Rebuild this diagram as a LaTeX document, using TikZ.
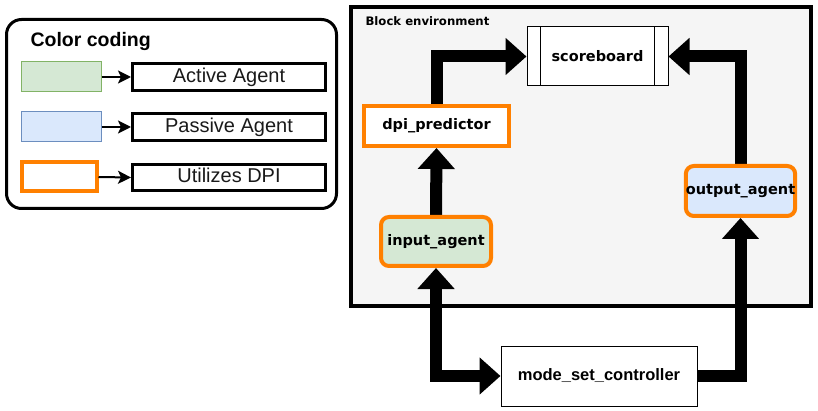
\documentclass[tikz,border=0pt]{standalone}
\usepackage{fontspec}
\setmainfont{Liberation Sans}
\newfontfamily\dv{DejaVu Sans}
\usetikzlibrary{arrows.meta}
\pgfdeclarelayer{bg}
\pgfdeclarelayer{mid}
\pgfsetlayers{bg,mid,main}
\definecolor{dpiorange}{HTML}{FF8000}
\definecolor{actfill}{HTML}{D5E8D4}
\definecolor{actline}{HTML}{82B366}
\definecolor{pasfill}{HTML}{DAE8FC}
\definecolor{pasline}{HTML}{6C8EBF}
\definecolor{envfill}{HTML}{F5F5F5}
\definecolor{txt}{HTML}{1A1A1A}
\tikzset{
  legbox/.style={draw=black, line width=3pt, fill=white, minimum width=193pt, minimum height=27pt, inner sep=0pt, font=\fontsize{20}{24}\selectfont, text=txt, text height=14.5pt, text depth=4pt},
  legarrow/.style={line width=2pt, -{Stealth[length=13pt,width=13pt,inset=3pt]}},
  blk/.style={font=\dv\bfseries\fontsize{14.5}{16}\selectfont, inner sep=0pt, align=center},
  bigarrow/.style={line width=12pt, line join=miter, -{Triangle[length=21pt,width=36pt]}},
  bigboth/.style={line width=12pt, line join=miter, {Triangle[length=21pt,width=36pt]}-{Triangle[length=21pt,width=36pt]}},
}
\begin{document}
\begin{tikzpicture}[x=1pt,y=-1pt]
\useasboundingbox (0,0) rectangle (818,411);
% legend
\draw[line width=3pt, rounded corners=15pt, fill=white] (6.5,19.5) rectangle (336.5,208.5);
\node[anchor=west, font=\bfseries\fontsize{19.5}{22}\selectfont] (cc) at (27,42) {Color coding};
\node[draw=actline, fill=actfill, line width=1pt, minimum width=80pt, minimum height=30pt, inner sep=0pt] (lg) at (61,77) {};
\node[draw=pasline, fill=pasfill, line width=1pt, minimum width=80pt, minimum height=30pt, inner sep=0pt] (lb) at (61,127) {};
\node[draw=dpiorange, fill=white, line width=4pt, minimum width=75pt, minimum height=29pt, inner sep=0pt] (lo) at (59,177) {};
\node[legbox] (aa) at (229,77) {Active Agent};
\node[legbox] (pa) at (229,127) {Passive Agent};
\node[legbox, minimum height=26pt] (ud) at (229,177.5) {Utilizes DPI};
\draw[legarrow] (lg.east) -- (aa.west);
\draw[legarrow] (lb.east) -- (pa.west);
\draw[legarrow] (lo.east) -- (ud.west);
% block environment
\begin{pgfonlayer}{bg}
\draw[line width=4pt, fill=envfill] (351,7) rectangle (811,306);
\end{pgfonlayer}
\node[anchor=west, font=\dv\bfseries\fontsize{11.7}{13}\selectfont] (be) at (362,21) {Block environment};
% nodes
\node[blk, draw=black, line width=1pt, fill=white, minimum width=141pt, minimum height=59pt] (sb) at (597.5,56.5) {scoreboard};
\draw[line width=1pt] ([xshift=14pt]sb.north west) -- ([xshift=14pt]sb.south west);
\draw[line width=1pt] ([xshift=-14pt]sb.north east) -- ([xshift=-14pt]sb.south east);
\node[blk, draw=dpiorange, line width=4pt, fill=white, minimum width=145pt, minimum height=40pt] (dpi) at (436.5,126) {dpi\_predictor};
\node[blk, draw=dpiorange, line width=4pt, fill=pasfill, rounded corners=8pt, minimum width=109pt, minimum height=50pt] (out) at (740.5,191) {output\_agent};
\node[blk, draw=dpiorange, line width=4pt, fill=actfill, rounded corners=8pt, minimum width=110pt, minimum height=49pt] (in) at (436,241.5) {input\_agent};
\node[draw=black, line width=1pt, fill=white, minimum width=196pt, minimum height=60pt, inner sep=0pt, font=\bfseries\fontsize{16.5}{19}\selectfont] (msc) at (599,376) {mode\_set\_controller};
% connectors
\begin{pgfonlayer}{mid}
\draw[bigarrow] (in.north) -- (dpi.south);
\draw[bigarrow] (dpi.north) |- (sb.west);
\draw[bigarrow] (out.north) |- (sb.east);
\draw[bigboth] (in.south) |- (msc.west);
\draw[bigarrow] (msc.east) -| (out.south);
\end{pgfonlayer}
\end{tikzpicture}
\end{document}
